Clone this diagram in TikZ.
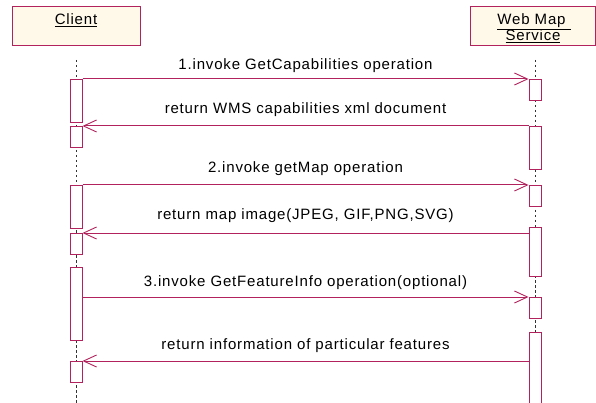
\documentclass[tikz,border=0pt]{standalone}
\usepackage{fontspec}
\setmainfont{Liberation Sans}[LetterSpace=5.5]
\usetikzlibrary{arrows.meta}
\definecolor{umlred}{RGB}{178,34,92}
\definecolor{umlfill}{RGB}{255,249,234}
\tikzset{
  hdr/.style={draw=umlred, fill=umlfill, line width=1pt, rectangle, inner sep=0pt, anchor=north west},
  act/.style={draw=umlred, fill=white, line width=1pt, rectangle, inner sep=0pt, minimum width=12pt, anchor=north},
  lifeline/.style={draw=black!80, line width=0.9pt, dash pattern=on 2.5pt off 2.5pt},
  msg/.style={draw=umlred, line width=1pt, -{Straight Barb[length=13pt,width=12pt,line width=0.9pt]}},
  lbl/.style={anchor=base, inner sep=0pt, font=\fontsize{15}{17}\selectfont},
  htxt/.style={anchor=base, inner sep=0pt, font=\fontsize{15}{17}\selectfont}
}
\begin{document}
\begin{tikzpicture}[x=1pt,y=-1pt]
\useasboundingbox (0,0) rectangle (596,403);
% header boxes
\node[hdr, minimum width=128pt, minimum height=39pt] (client) at (12,6) {};
\node[hdr, minimum width=125pt, minimum height=39pt] (wms) at (470,6) {};
\node[htxt] (clientT) at (76,24.5) {\underline{Client}};
\node[htxt] (wmsT1) at (534,25) {\underline{Web Map\ }};
\node[htxt] (wmsT2) at (533,40.5) {\underline{Service}};
% lifelines
\coordinate (cltop) at (76,60);
\coordinate (clbot) at (76,403);
\coordinate (wltop) at (535,60);
\coordinate (wlbot) at (535,403);
\draw[lifeline] (cltop) -- (clbot);
\draw[lifeline] (wltop) -- (wlbot);
% activation boxes (client)
\node[act, minimum height=43pt] (c1) at (76,79) {};
\node[act, minimum height=21pt] (c2) at (76,126) {};
\node[act, minimum height=43pt] (c3) at (76,185) {};
\node[act, minimum height=21pt] (c4) at (76,233) {};
\node[act, minimum height=73pt] (c5) at (76,267) {};
\node[act, minimum height=21pt] (c6) at (76,361) {};
% activation boxes (wms)
\node[act, minimum height=21pt] (w1) at (535,79) {};
\node[act, minimum height=43pt] (w2) at (535,126) {};
\node[act, minimum height=21pt] (w3) at (535,185) {};
\node[act, minimum height=49pt] (w4) at (535,227) {};
\node[act, minimum height=21pt] (w5) at (535,297) {};
\node[act, minimum height=90pt] (w6) at (535,332) {};
% messages
\draw[msg] (c1.north east) -- (w1.north west)
  node[lbl, midway, yshift=9pt] (m1) {1.invoke GetCapabilities operation};
\draw[msg] (w2.north west) -- (c2.north east)
  node[lbl, midway, yshift=12pt] (m2) {return WMS capabilities xml document};
\draw[msg] (c3.north east) -- (w3.north west)
  node[lbl, midway, yshift=12pt] (m3) {2.invoke getMap operation};
\draw[msg] (w4.west |- c4.north) -- (c4.north east)
  node[lbl, midway, yshift=14pt] (m4) {return map image(JPEG, GIF,PNG,SVG)};
\draw[msg] (c5.east |- w5.north) -- (w5.north west)
  node[lbl, midway, yshift=11pt] (m5) {3.invoke GetFeatureInfo operation(optional)};
\draw[msg] (w6.west |- c6.north) -- (c6.north east)
  node[lbl, midway, yshift=12pt] (m6) {return information of particular features};
\end{tikzpicture}
\end{document}
